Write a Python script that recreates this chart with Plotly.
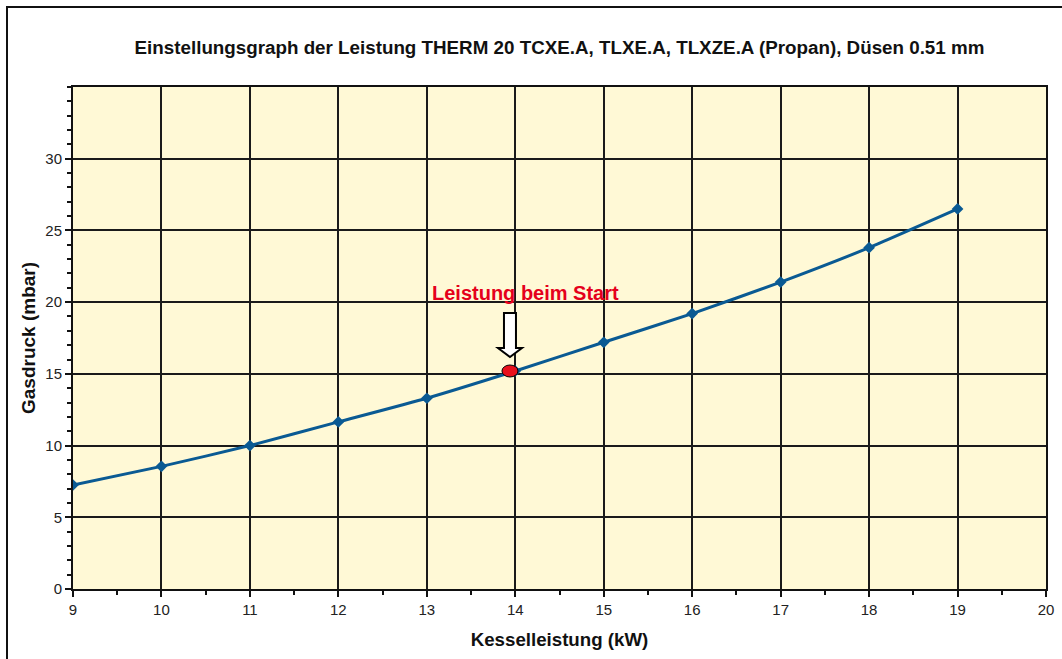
import plotly.graph_objects as go

# Kesselleistung (kW) und zugehöriger Gasdruck (mbar)
leistung_kw = [9, 10, 11, 12, 13, 14, 15, 16, 17, 18, 19]
gasdruck_mbar = [7.25, 8.55, 10.0, 11.65, 13.3, 15.2, 17.2, 19.2, 21.4, 23.8, 26.5]

# Startleistung
start_kw = 13.94
start_mbar = 15.2
start_label = "Leistung beim Start"

title_text = "Einstellungsgraph der Leistung THERM 20 TCXE.A, TLXE.A, TLXZE.A (Propan), Düsen 0.51 mm"
x_title = "Kesselleistung (kW)"
y_title = "Gasdruck (mbar)"

x_range = [9, 20]
y_range = [0, 35]

W, H = 1062, 659
ML, MR, MT, MB = 73, 16, 87, 70
PW, PH = W - ML - MR, H - MT - MB

line_blue = "#0A5A93"
bg_yellow = "#FFF9D6"
font_family = "Liberation Sans, Arial, sans-serif"
tick_font = dict(family=font_family, size=15, color="#222222")

fig = go.Figure()
fig.add_trace(go.Scatter(
    x=leistung_kw, y=gasdruck_mbar,
    mode="lines+markers",
    line=dict(color=line_blue, width=3, shape="spline", smoothing=0.5),
    marker=dict(symbol="diamond", size=9, color=line_blue),
    showlegend=False, hoverinfo="x+y",
))


def px_x(p):
    return (p - ML) / PW


def px_y(p):
    return (H - MB - p) / PH


shapes = [
    # Rahmen um die gesamte Grafik
    dict(type="rect", xref="paper", yref="paper",
         x0=px_x(7), x1=px_x(W + 10), y0=px_y(H + 10), y1=px_y(7),
         line=dict(color="#111111", width=2), fillcolor="rgba(0,0,0,0)", layer="below"),
    # Pfeil auf den Startpunkt
    dict(type="path", xref="x", yref="y",
         xsizemode="pixel", ysizemode="pixel",
         xanchor=start_kw, yanchor=start_mbar,
         path="M -6,58 L 6,58 L 6,23 L 12,23 L 0,14 L -12,23 L -6,23 Z",
         fillcolor="white", line=dict(color="black", width=2)),
    # Startpunkt
    dict(type="circle", xref="x", yref="y",
         xsizemode="pixel", ysizemode="pixel",
         xanchor=start_kw, yanchor=start_mbar,
         x0=-8, x1=8, y0=-6, y1=6,
         fillcolor="#E8101C", line=dict(color="black", width=1)),
]

annotations = [
    dict(x=start_kw, y=start_mbar, xref="x", yref="y",
         text="<b>" + start_label + "</b>", showarrow=False,
         xshift=16, yshift=78, yanchor="middle",
         font=dict(family=font_family, size=20, color="#E5001B")),
]

fig.update_layout(
    width=W, height=H,
    margin=dict(l=ML, r=MR, t=MT, b=MB, autoexpand=False),
    paper_bgcolor="white",
    plot_bgcolor=bg_yellow,
    font=dict(family=font_family, size=15, color="#222222"),
    title=dict(text="<b>" + title_text + "</b>", x=0.5, xanchor="center",
               xref="paper", y=1 - 47 / H, yanchor="middle",
               font=dict(family=font_family, size=18.8, color="#111111")),
    shapes=shapes,
    annotations=annotations,
    xaxis=dict(
        range=x_range, dtick=1, tick0=9, automargin=False,
        tickfont=tick_font,
        showgrid=True, gridcolor="#1a1a1a", gridwidth=1.5,
        showline=True, linecolor="#111111", linewidth=2, mirror=True,
        ticks="outside", ticklen=6, tickwidth=1.5, tickcolor="#111111",
        minor=dict(dtick=0.5, ticks="outside", ticklen=4, tickcolor="#111111", showgrid=False),
        zeroline=False,
        title=dict(text="<b>" + x_title + "</b>", standoff=16,
                   font=dict(family=font_family, size=18.7, color="#111111")),
    ),
    yaxis=dict(
        range=y_range, dtick=5, tick0=0, automargin=False,
        tickvals=[0, 5, 10, 15, 20, 25, 30],
        tickfont=tick_font,
        showgrid=True, gridcolor="#1a1a1a", gridwidth=1.5,
        showline=True, linecolor="#111111", linewidth=2, mirror=True,
        ticks="outside", ticklen=6, tickwidth=1.5, tickcolor="#111111",
        minor=dict(dtick=1, ticks="outside", ticklen=4, tickcolor="#111111", showgrid=False),
        zeroline=False,
        title=dict(text="<b>" + y_title + "</b>", standoff=5,
                   font=dict(family=font_family, size=19, color="#111111")),
    ),
)

fig.write_html("out.html")
